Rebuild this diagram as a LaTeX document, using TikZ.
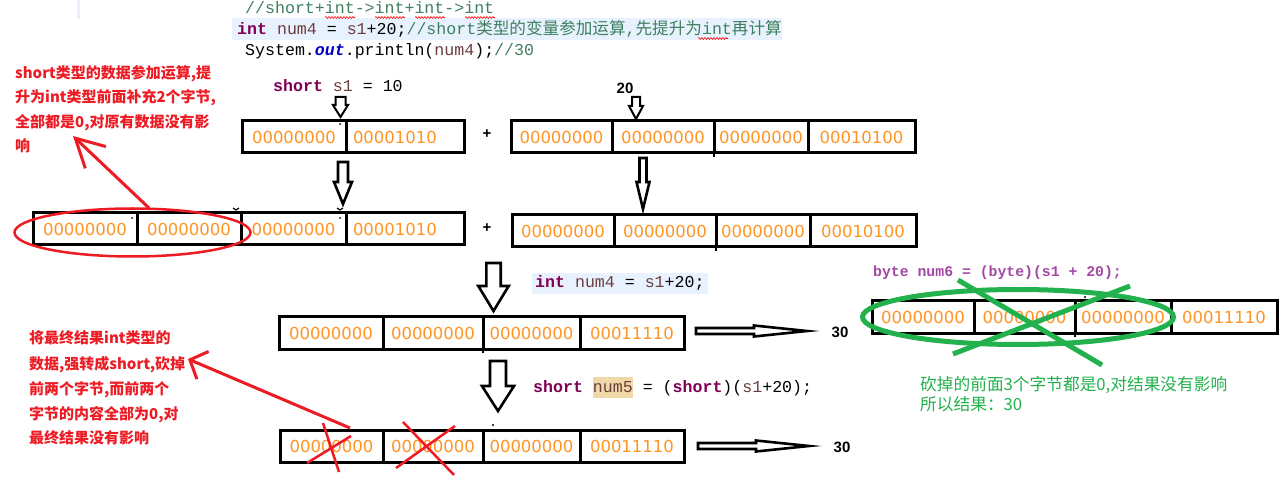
\documentclass[tikz,border=0pt]{standalone}
\usepackage{fontspec}
\usetikzlibrary{arrows.meta,decorations.pathmorphing,shapes.geometric}
\newfontfamily\codefont{Liberation Mono}
\newfontfamily\cjkfont{Noto Sans CJK SC}
\newfontfamily\digitfont{DejaVu Sans}
\newfontfamily\labelfont{Liberation Sans}
\definecolor{kwc}{HTML}{7F0055}
\definecolor{cmtc}{HTML}{3F7F5F}
\definecolor{lvarc}{HTML}{6A3E3E}
\definecolor{fldc}{HTML}{0000C0}
\definecolor{hlblue}{HTML}{E8F2FE}
\definecolor{hltan}{HTML}{F0D8A8}
\definecolor{digitc}{HTML}{FF9422}
\definecolor{pred}{HTML}{ED1C24}
\definecolor{pgreen}{HTML}{22B14C}
\definecolor{bytepurple}{HTML}{A349A4}
\newcommand\jkw[1]{\textcolor{kwc}{\bfseries #1}}
\newcommand\jlv[1]{\textcolor{lvarc}{#1}}
\newcommand\jcm[1]{\textcolor{cmtc}{#1}}
\newcommand\zh[1]{{\cjkfont #1}}
\newcommand\cellnode[5]{\node[cell, minimum width=#4pt] (#1) at (#2,#3) {#5};}
\newcommand\widecell[5]{\node[cell, minimum width=#4pt, text width=104pt, align=left] (#1) at (#2,#3) {#5};}
\newcommand\blockdown[6]{\draw[blockarrow] ({#1-#5},#2) -- ({#1+#5},#2) -- ({#1+#5},#3) -- ({#1+#6},#3) -- (#1,#4) -- ({#1-#6},#3) -- ({#1-#5},#3) -- cycle;}
\newcommand\blockright[6]{\draw[blockarrow] (#1,{#2-#5}) -- (#3,{#2-#5}) -- (#3,{#2-#6}) -- (#4,#2) -- (#3,{#2+#6}) -- (#3,{#2+#5}) -- (#1,{#2+#5}) -- cycle;}
\tikzset{
  cell/.style={draw=black, line width=3pt, minimum height=32pt, inner sep=0pt, outer sep=0pt,
    anchor=north west, font=\digitfont\fontsize{16.5}{18}\selectfont, text=digitc},
  blockarrow/.style={draw=black, fill=white, line width=2.6pt, line join=miter},
  smallarrow/.style={blockarrow, line width=2pt},
  code/.style={inner sep=0pt, anchor=base west, font=\codefont\fontsize{16.6}{22}\selectfont},
  bytecode/.style={inner sep=0pt, anchor=base west, text=bytepurple, font=\codefont\bfseries\fontsize{14.8}{18}\selectfont},
  boldlbl/.style={inner sep=0pt, font=\labelfont\bfseries\fontsize{15}{16}\selectfont},
  redtxt/.style={inner sep=0pt, anchor=base west, text=pred, font=\cjkfont\bfseries\fontsize{15}{18}\selectfont},
  greentxt/.style={inner sep=0pt, anchor=base west, text=pgreen, font=\cjkfont\fontsize{16.7}{20}\selectfont},
  squig/.style={red, line width=0.6pt, decorate, decoration={snake, amplitude=0.9pt, segment length=3pt}},
  redline/.style={draw=pred, line width=3pt},
  redx/.style={draw=pred, line width=2.5pt},
  greenx/.style={draw=pgreen, line width=5pt},
  tick/.style={draw=black, line width=1.2pt}
}
\begin{document}
\begin{tikzpicture}[x=1pt,y=-1pt]
\useasboundingbox (0,0) rectangle (1285,494);
\fill[white] (0,0) rectangle (1285,494);
\fill[hlblue] (77,0) rectangle (80,19);
% ---- code lines
\fill[hlblue] (232,18) rectangle (782,40);
\node[code] (codeA) at (245,14) {\jcm{//short+int->int+int->int}};
\node[code] (codeB) at (237,35) {\jkw{int} \jlv{num4} = \jlv{s1}+20;\jcm{//short\zh{类型的变量参加运算},\zh{先提升为}int\zh{再计算}}};
\node[code] (codeC) at (245,56) {System.\textcolor{fldc}{\bfseries\itshape out}.println(\jlv{num4});\jcm{//30}};
\foreach \sx in {325,375,415,465} \draw[squig] (\sx,17.5) -- ++(30,0);
\draw[squig] (698,38.5) -- ++(30,0);
% ---- labels
\node[code] (s1lbl) at (273,92) {\jkw{short} \jlv{s1} = 10};
\node[boldlbl] (twenty) at (625,88) {20};
\node[boldlbl] (plusA) at (487,134) {+};
\node[boldlbl] (plusB) at (487,228) {+};
\node[code, fill=hlblue, inner xsep=3pt, inner ysep=0pt, text height=15pt, text depth=6pt] (num4lbl) at (532,288) {\jkw{int} \jlv{num4} = \jlv{s1}+20;};
\node[code] (num5lbl) at (533,392) {\jkw{short} {\setlength\fboxsep{0pt}\colorbox{hltan}{\jlv{num5}\rule[-6pt]{0pt}{21pt}}} = (\jkw{short})(\jlv{s1}+20);};
\node[bytecode] (num6lbl) at (873,277) {byte num6 = (byte)(s1 + 20);};
% ---- row 1
\cellnode{ra1}{242}{121}{104}{00000000}
\widecell{ra2}{346}{121}{118}{00001010}
\cellnode{rb1}{511}{121}{101}{00000000}
\cellnode{rb2}{612}{121}{102}{00000000}
\cellnode{rb3}{714}{121}{94}{00000000}
\cellnode{rb4}{808}{121}{107}{00010100}
% ---- row 2
\cellnode{rc1}{33}{213}{104}{00000000}
\cellnode{rc2}{137}{213}{104}{00000000}
\cellnode{rc3}{241}{213}{105}{00000000}
\widecell{rc4}{346}{213}{118}{00001010}
\cellnode{rd1}{512}{215}{102}{00000000}
\cellnode{rd2}{614}{215}{102}{00000000}
\cellnode{rd3}{716}{215}{94}{00000000}
\cellnode{rd4}{810}{215}{106}{00010100}
% ---- row 3
\cellnode{re1}{279}{317}{104}{00000000}
\cellnode{re2}{383}{317}{100}{00000000}
\cellnode{re3}{483}{317}{97}{00000000}
\cellnode{re4}{580}{317}{104}{00011110}
% ---- row 4
\cellnode{rf1}{280}{430}{103}{00000000}
\cellnode{rf2}{383}{430}{100}{00000000}
\cellnode{rf3}{483}{430}{97}{00000000}
\cellnode{rf4}{580}{430}{104}{00011110}
% ---- right box
\cellnode{rg1}{872}{301}{102}{00000000}
\cellnode{rg2}{974}{301}{101}{00000000}
\cellnode{rg3}{1075}{301}{96}{00000000}
\cellnode{rg4}{1171}{301}{106}{00011110}
% ---- small ticks
\draw[tick] (714,153) -- (714,157);
\draw[tick] (716,247) -- (716,251);
\draw[tick] (483,349) -- (483,353);
\draw[tick] (1075,333) -- (1075,337);
\fill (340,124) circle (1pt);
\fill (132,218) circle (1pt);
\fill (340,218) circle (1pt);
\draw[tick] (130,209) -- (134,209);
\draw[tick] (233,208) -- (236,210) -- (239,208);
\draw[tick] (337,208) -- (340,210) -- (343,208);
\fill (493,425) circle (1.2pt);
\fill (1085,297) circle (1.2pt);
% ---- block arrows
\draw[smallarrow] (335.5,97) -- (345.5,97) -- (345.5,105) -- (348,105) -- (340.5,117) -- (333,105) -- (335.5,105) -- cycle;
\draw[smallarrow] (632,97) -- (640,97) -- (640,106) -- (643,106) -- (636,119) -- (629,106) -- (632,106) -- cycle;
\blockdown{343}{162}{182}{204}{5}{9}
\blockdown{643}{158}{182}{209}{3.5}{6.5}
\blockdown{493.5}{263}{286}{311}{7.2}{15.2}
\blockdown{498}{361}{386}{411}{8}{16}
\blockright{696}{331}{754}{807}{3}{5.5}
\blockright{698}{446}{756}{809}{3}{5.5}
\node[boldlbl] (res30a) at (840,332.5) {30};
\node[boldlbl] (res30b) at (842,447) {30};
% ---- red annotations
\node[draw=pred, line width=2.5pt, ellipse, minimum width=236pt, minimum height=48pt, inner sep=0pt] (redoval) at (132.5,232.5) {};
\coordinate (redA0) at (149,208);
\coordinate (redA1) at (73,136);
\draw[redline, -{Straight Barb[length=28pt,width=30pt]}] (redA0) -- (redA1);
\node[redtxt] (noteA1) at (15,78.5) {short类型的数据参加运算,提};
\node[redtxt] (noteA2) at (15,102.5) {升为int类型前面补充2个字节,};
\node[redtxt] (noteA3) at (15,127.5) {全部都是0,对原有数据没有影};
\node[redtxt] (noteA4) at (15,151.5) {响};
\node[redtxt] (noteB1) at (29,344) {将最终结果int类型的};
\node[redtxt] (noteB2) at (29,369) {数据,强转成short,砍掉};
\node[redtxt] (noteB3) at (29,394) {前两个字节,而前两个};
\node[redtxt] (noteB4) at (29,419) {字节的内容全部为0,对};
\node[redtxt] (noteB5) at (29,443) {最终结果没有影响};
\coordinate (redB0) at (350,428);
\coordinate (redB1) at (188,359);
\draw[redline, -{Straight Barb[length=14pt,width=30pt]}] (redB0) -- (redB1);
\draw[redx] (323,423) -- (339,472);
\draw[redx] (307,463) -- (351,436);
\draw[redx] (403,422) -- (454,475);
\draw[redx] (455,426) -- (396,468);
% ---- green annotations
\node[draw=pgreen, line width=5pt, ellipse, minimum width=311pt, minimum height=55pt, inner sep=0pt] (greenoval) at (1018,317) {};
\draw[greenx] (958,280) -- (1102,365);
\draw[greenx] (1130,286) -- (953,354);
\node[greentxt] (noteC1) at (920,390) {砍掉的前面3个字节都是0,对结果没有影响};
\node[greentxt] (noteC2) at (920,410) {所以结果：30};
\end{tikzpicture}
\end{document}
